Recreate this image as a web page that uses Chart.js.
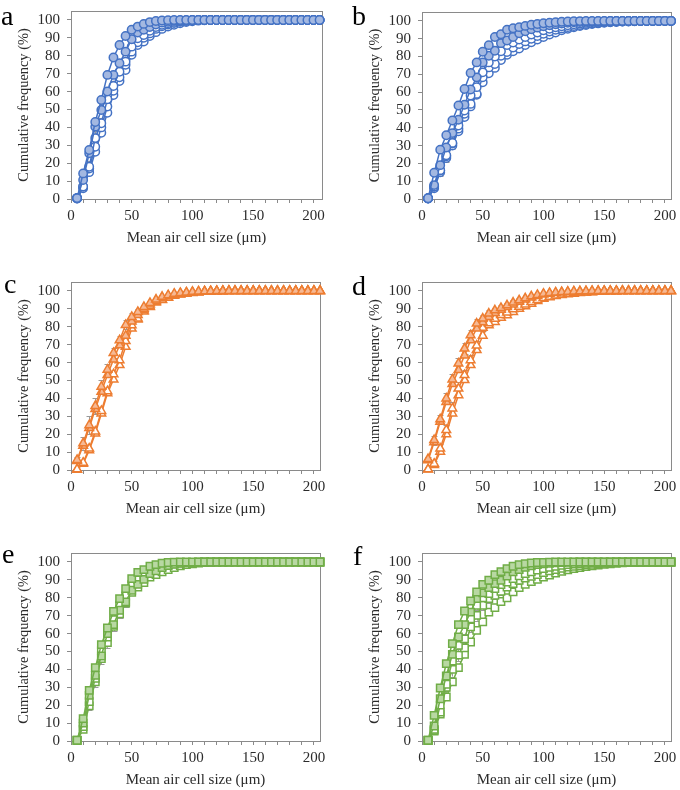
<!DOCTYPE html>
<html>
<head>
<meta charset="utf-8">
<script src="https://cdn.jsdelivr.net/npm/chart.js@4"></script>
<style>
  body { margin: 0; background: #fff; width: 680px; height: 790px; position: relative; overflow: hidden; }
  canvas { position: absolute; }
  .lbl { position: absolute; font: 28px/28px "Liberation Serif", serif; color: #000; z-index: 2; }
</style>
</head>
<body>
<script>
// x positions of the size classes (um)
const sizes = [5, 10, 15, 20, 25, 30, 35, 40, 45, 50,
  55, 60, 65, 70, 75, 80, 85, 90, 95, 100,
  105, 110, 115, 120, 125, 130, 135, 140, 145, 150,
  155, 160, 165, 170, 175, 180, 185, 190, 195, 200, 205];

const xTickLabels = [0, 50, 100, 150, 200];
const yTickLabels = [0, 10, 20, 30, 40, 50, 60, 70, 80, 90, 100];

// panel a (circles)
const aFilled1 = [0.5, 14.3, 27.4, 43, 55.3, 69.3, 79, 86, 91, 94.5,
  96.3, 97.8, 98.8, 99.4, 99.7, 99.9, 100, 100, 100, 100,
  100, 100, 100, 100, 100, 100, 100, 100, 100, 100,
  100, 100, 100, 100, 100, 100, 100, 100, 100, 100, 100];
const aFilled2 = [0.5, 10.6, 25.5, 40.4, 49.7, 60, 69.3, 75.8, 82.3, 89.2,
  93, 94.5, 96, 97.5, 98.5, 99, 99.5, 99.7, 99.9, 100,
  100, 100, 100, 100, 100, 100, 100, 100, 100, 100,
  100, 100, 100, 100, 100, 100, 100, 100, 100, 100, 100];
const aOpen1 = [0.5, 7, 18, 34, 42.3, 55.7, 63.1, 71.1, 76.7, 85.1,
  89.8, 91.6, 94, 96, 97.3, 98.2, 98.9, 99.3, 99.6, 99.8,
  100, 100, 100, 100, 100, 100, 100, 100, 100, 100,
  100, 100, 100, 100, 100, 100, 100, 100, 100, 100, 100];
const aOpen2 = [0.3, 6.9, 17, 29.2, 40, 51.6, 60.5, 68, 75, 82.3,
  87.5, 90, 92.5, 95, 96.5, 97.5, 98.3, 99, 99.4, 99.7,
  99.9, 100, 100, 100, 100, 100, 100, 100, 100, 100,
  100, 100, 100, 100, 100, 100, 100, 100, 100, 100, 100];
const aOpen3 = [0.3, 6, 15, 26.4, 37, 48.2, 58.1, 65.9, 72, 80.5,
  86, 88, 91, 93.2, 95, 96.3, 97.3, 98.2, 98.8, 99.3,
  99.6, 99.8, 100, 100, 100, 100, 100, 100, 100, 100,
  100, 100, 100, 100, 100, 100, 100, 100, 100, 100, 100];
const aOpen1Err = [0, 1.5, 3, 4, 3, 3, 3, 2.5, 2, 1.5,
  1.5, 1, 1, 0.8, 0.6, 0.5, 0.4, 0.3, 0, 0,
  0, 0, 0, 0, 0, 0, 0, 0, 0, 0,
  0, 0, 0, 0, 0, 0, 0, 0, 0, 0, 0];

// panel b (circles)
const bFilled1 = [0.4, 14.7, 27.7, 35.8, 44.1, 52.5, 61.8, 70.8, 76.7, 82.7,
  86.4, 91, 92.5, 95, 95.9, 96.5, 97.2, 97.8, 98.3, 98.7,
  99, 99.3, 99.5, 99.7, 99.8, 99.9, 100, 100, 100, 100,
  100, 100, 100, 100, 100, 100, 100, 100, 100, 100, 100];
const bFilled2 = [0.4, 7.8, 19, 28.9, 37, 44.5, 52.9, 61.5, 68.3, 76.7,
  80.4, 83.2, 87.5, 89, 91, 93, 94.2, 95.3, 96.2, 97,
  97.6, 98.1, 98.5, 98.9, 99.2, 99.4, 99.6, 99.7, 99.8, 99.9,
  100, 100, 100, 100, 100, 100, 100, 100, 100, 100, 100];
const bOpen1 = [0.4, 7, 16.2, 24.6, 31.5, 41.3, 49.7, 58.1, 62.8, 71.1,
  76.7, 80, 83, 86.5, 87.9, 89.5, 91, 92.3, 93.5, 94.7,
  95.6, 96.4, 97, 97.6, 98.1, 98.5, 98.9, 99.2, 99.4, 99.6,
  99.7, 99.8, 99.9, 100, 100, 100, 100, 100, 100, 100, 100];
const bOpen2 = [0.3, 6.9, 16, 24, 31.1, 39.5, 47.9, 53.4, 59, 68.3,
  73.9, 75.8, 80.4, 82.5, 85, 87, 88.5, 90, 91.5, 92.8,
  94, 95, 95.8, 96.5, 97.1, 97.7, 98.2, 98.6, 98.9, 99.2,
  99.4, 99.6, 99.7, 99.8, 99.9, 100, 100, 100, 100, 100, 100];
const bOpen3 = [0.3, 6, 15, 23, 30, 38, 46, 52, 58.5, 65.5,
  70.6, 73.6, 78, 81, 82.9, 84.5, 86.5, 88, 89.5, 91,
  92.3, 93.5, 94.7, 95.6, 96.4, 97.1, 97.7, 98.2, 98.6, 98.9,
  99.2, 99.4, 99.6, 99.7, 99.8, 99.9, 100, 100, 100, 100, 100];
const bOpen2Err = [0, 2, 3, 3, 3, 2.5, 2.5, 2.5, 2, 2,
  1.5, 1.5, 1.2, 1, 1, 0.8, 0.7, 0.6, 0.5, 0.4,
  0.3, 0, 0, 0, 0, 0, 0, 0, 0, 0,
  0, 0, 0, 0, 0, 0, 0, 0, 0, 0, 0];

// panel c (triangles)
const cFilled1 = [5.6, 14.9, 25, 35.7, 46.5, 56, 65.4, 72.5, 81, 85.5,
  88.3, 91.1, 93.3, 95.2, 96.7, 97.6, 98.5, 98.9, 99.2, 99.5,
  99.7, 99.8, 99.9, 100, 100, 100, 100, 100, 100, 100,
  100, 100, 100, 100, 100, 100, 100, 100, 100, 100, 100];
const cFilled2 = [5, 13.5, 23.5, 34, 43.7, 53, 61.7, 69.7, 75, 83,
  86.5, 90, 92.5, 94.5, 96.2, 97.2, 98, 98.6, 99, 99.3,
  99.5, 99.7, 99.8, 99.9, 100, 100, 100, 100, 100, 100,
  100, 100, 100, 100, 100, 100, 100, 100, 100, 100, 100];
const cOpen1 = [0.4, 4.1, 12, 21.5, 33, 44, 53.5, 61.3, 72, 80.9,
  84.6, 89.2, 91.4, 93.9, 95.2, 96.3, 97.6, 98.1, 98.6, 99,
  99.3, 99.5, 99.7, 99.8, 99.9, 100, 100, 100, 100, 100,
  100, 100, 100, 100, 100, 100, 100, 100, 100, 100, 100];
const cOpen2 = [0.2, 3.5, 11, 20.4, 31.6, 42.8, 50.6, 58.6, 68.8, 79,
  84, 88.5, 91, 93.5, 95, 96.2, 97.3, 98, 98.5, 98.9,
  99.2, 99.5, 99.7, 99.8, 99.9, 100, 100, 100, 100, 100,
  100, 100, 100, 100, 100, 100, 100, 100, 100, 100, 100];
const cFilled1Err = [1.5, 3.5, 5, 4.5, 3.5, 3, 3, 2.5, 2.5, 2,
  1.5, 1.2, 1, 1, 0.8, 0.6, 0.5, 0.4, 0.3, 0,
  0, 0, 0, 0, 0, 0, 0, 0, 0, 0,
  0, 0, 0, 0, 0, 0, 0, 0, 0, 0, 0];

// panel d (triangles)
const dFilled1 = [6.1, 16.7, 28.3, 40, 50.6, 59.5, 67.8, 75.3, 81.8, 84.6,
  87.4, 89.2, 90.5, 92, 93.5, 94.8, 95.9, 97, 97.8, 98.5,
  98.9, 99.2, 99.4, 99.6, 99.7, 99.8, 99.9, 100, 100, 100,
  100, 100, 100, 100, 100, 100, 100, 100, 100, 100, 100];
const dFilled2 = [5.5, 15.5, 27, 38, 48, 55.8, 64, 72.5, 79, 82.5,
  85.5, 87.7, 89.5, 91, 92.5, 94, 95.2, 96.3, 97.2, 98,
  98.5, 98.9, 99.2, 99.4, 99.6, 99.7, 99.8, 99.9, 100, 100,
  100, 100, 100, 100, 100, 100, 100, 100, 100, 100, 100];
const dOpen1 = [0.4, 3.5, 12, 22.3, 34.4, 45.5, 53, 61.3, 69.5, 79.4,
  82, 84.5, 86.5, 88, 89.8, 91.2, 92.5, 93.8, 95, 96,
  96.8, 97.5, 98, 98.4, 98.7, 99, 99.2, 99.4, 99.6, 99.7,
  99.8, 99.9, 100, 100, 100, 100, 100, 100, 100, 100, 100];
const dOpen2 = [0.3, 2.8, 10.2, 20, 31.6, 41.8, 50.2, 58.6, 67, 75,
  80.9, 82.7, 85.1, 86.4, 88.3, 90.1, 91.4, 92.9, 94.4, 95.7,
  96.5, 97.2, 97.7, 98.1, 98.5, 98.8, 99.1, 99.3, 99.5, 99.7,
  99.8, 99.9, 100, 100, 100, 100, 100, 100, 100, 100, 100];
const dFilled1Err = [1, 2.5, 2.5, 3, 3, 3, 3, 3, 2.5, 2,
  1.8, 1.5, 1.5, 1.3, 1.2, 1, 0.8, 0.6, 0.5, 0.4,
  0.3, 0, 0, 0, 0, 0, 0, 0, 0, 0,
  0, 0, 0, 0, 0, 0, 0, 0, 0, 0, 0];
const dOpen1Err = [0, 1.5, 2.5, 3, 3.5, 3.5, 3, 3, 2.5, 2,
  2, 1.8, 1.5, 1.3, 1.2, 1, 0.8, 0.7, 0.6, 0.5,
  0.4, 0.3, 0, 0, 0, 0, 0, 0, 0, 0,
  0, 0, 0, 0, 0, 0, 0, 0, 0, 0, 0];

// panel e (squares)
const eFilled1 = [0.4, 12.5, 28.3, 41, 53.8, 63.1, 72.4, 79.5, 85.1, 90.7,
  94.2, 95.7, 97.6, 98.5, 99.3, 99.7, 99.9, 100, 100, 100,
  100, 100, 100, 100, 100, 100, 100, 100, 100, 100,
  100, 100, 100, 100, 100, 100, 100, 100, 100, 100, 100];
const eFilled2 = [0.4, 10, 25.5, 36.7, 47.5, 60, 65, 73, 77.7, 84.2,
  87.5, 90.3, 93.5, 95, 96.8, 98, 98.7, 99.2, 99.5, 99.7,
  99.9, 100, 100, 100, 100, 100, 100, 100, 100, 100,
  100, 100, 100, 100, 100, 100, 100, 100, 100, 100, 100];
const eOpen1 = [0.3, 8, 22, 35, 50.5, 58, 67.8, 75.8, 81, 87.3,
  90, 92.5, 95, 96.5, 97.6, 98.4, 99, 99.4, 99.6, 99.8,
  99.9, 100, 100, 100, 100, 100, 100, 100, 100, 100,
  100, 100, 100, 100, 100, 100, 100, 100, 100, 100, 100];
const eOpen2 = [0.3, 6.5, 19.6, 33, 46, 55, 64, 71, 77, 83,
  86, 88.5, 91.5, 93, 94.5, 95.8, 96.9, 97.8, 98.5, 99,
  99.4, 99.7, 99.8, 99.9, 100, 100, 100, 100, 100, 100,
  100, 100, 100, 100, 100, 100, 100, 100, 100, 100, 100];
const eOpen2Err = [0, 1.5, 2.5, 3, 3, 3, 2.5, 2.5, 2, 1.5,
  1.5, 1.2, 1, 0.8, 0.6, 0.5, 0.4, 0.3, 0, 0,
  0, 0, 0, 0, 0, 0, 0, 0, 0, 0,
  0, 0, 0, 0, 0, 0, 0, 0, 0, 0, 0];

// panel f (squares)
const fFilled1 = [0.4, 14.3, 29.6, 43.2, 54.4, 65, 72.6, 78.2, 83.2, 87.5,
  89.8, 92.9, 94.6, 96.3, 97.6, 98.5, 99, 99.4, 99.7, 99.8,
  99.9, 100, 100, 100, 100, 100, 100, 100, 100, 100,
  100, 100, 100, 100, 100, 100, 100, 100, 100, 100, 100];
const fFilled2 = [0.4, 8.4, 23.6, 36.3, 48.4, 58.1, 65, 72, 79.5, 82.7,
  85.7, 87.9, 89.8, 92.1, 94.5, 95.7, 97, 97.8, 98.5, 99,
  99.3, 99.5, 99.7, 99.8, 99.9, 100, 100, 100, 100, 100,
  100, 100, 100, 100, 100, 100, 100, 100, 100, 100, 100];
const fOpen1 = [0.3, 6.5, 20, 31.7, 44.7, 53.4, 57, 68.3, 75.8, 79.9,
  82.3, 85.1, 87.3, 88.8, 90.7, 92.2, 93.5, 94.5, 95.5, 96.3,
  97, 97.6, 98.1, 98.5, 98.8, 99.1, 99.3, 99.5, 99.7, 99.8,
  99.9, 100, 100, 100, 100, 100, 100, 100, 100, 100, 100];
const fOpen2 = [0.3, 6, 16.2, 30, 40, 48, 52, 63.7, 70.2, 75.8,
  79.5, 81.4, 83.6, 86, 87.9, 89.8, 91, 92, 93, 94,
  95, 95.8, 96.5, 97.1, 97.6, 98, 98.4, 98.7, 99, 99.3,
  99.5, 99.7, 99.8, 99.9, 100, 100, 100, 100, 100, 100, 100];
const fOpen3 = [0.2, 5.5, 15, 24.6, 33, 41, 48.4, 55.3, 61.8, 66.5,
  72, 74.5, 77.9, 80, 83.3, 85.7, 87.5, 89, 90.3, 91.5,
  92.7, 93.8, 94.8, 95.6, 96.3, 96.9, 97.4, 97.9, 98.3, 98.7,
  99, 99.3, 99.5, 99.7, 99.8, 99.9, 100, 100, 100, 100, 100];
const fOpen1Err = [0, 2, 3.5, 3.5, 3.5, 3, 3, 3, 2.5, 2.5,
  2, 2, 1.8, 1.6, 1.5, 1.3, 1.2, 1, 0.9, 0.8,
  0.7, 0.5, 0.4, 0.3, 0, 0, 0, 0, 0, 0,
  0, 0, 0, 0, 0, 0, 0, 0, 0, 0, 0];
const fOpen2Err = [0, 1.5, 3, 4, 4, 3.5, 3, 3, 3, 2.5,
  2.5, 2, 2, 1.8, 1.5, 1.5, 1.3, 1.2, 1, 1,
  0.8, 0.7, 0.6, 0.5, 0.4, 0, 0, 0, 0, 0,
  0, 0, 0, 0, 0, 0, 0, 0, 0, 0, 0];

const blue = { line: '#4472C4', fill: '#A3B8E1' };
const orange = { line: '#ED7D31', fill: '#F6B994' };
const green = { line: '#70AD47', fill: '#B8D8A2' };

Chart.defaults.font.family = '"Liberation Serif", "Times New Roman", serif';
Chart.defaults.font.size = 15;
Chart.defaults.color = '#2b2b2b';

// plot rectangle of each panel in page pixels
const panels = [
  { letter: 'a', at: [1, 1.6], plot: { l: 71, t: 11, r: 322, b: 199 }, xMax: 207, pal: blue, style: 'circle',
    filled: [aFilled1, aFilled2], open: [aOpen1, aOpen2, aOpen3], err: { open0: aOpen1Err } },
  { letter: 'b', at: [352, 1.6], plot: { l: 422, t: 12, r: 671, b: 199 }, xMax: 205, pal: blue, style: 'circle',
    filled: [bFilled1, bFilled2], open: [bOpen1, bOpen2, bOpen3], err: { open1: bOpen2Err } },
  { letter: 'c', at: [4, 269.6], plot: { l: 71, t: 282, r: 320, b: 470 }, xMax: 205, pal: orange, style: 'triangle',
    filled: [cFilled1, cFilled2], open: [cOpen1, cOpen2], err: { filled0: cFilled1Err } },
  { letter: 'd', at: [352, 271.6], plot: { l: 422, t: 282, r: 671, b: 470 }, xMax: 205, pal: orange, style: 'triangle',
    filled: [dFilled1, dFilled2], open: [dOpen1, dOpen2], err: { filled0: dFilled1Err, open0: dOpen1Err } },
  { letter: 'e', at: [2, 539.6], plot: { l: 71, t: 553, r: 320, b: 741 }, xMax: 205, pal: green, style: 'rect',
    filled: [eFilled1, eFilled2], open: [eOpen1, eOpen2], err: { open1: eOpen2Err } },
  { letter: 'f', at: [353, 541.6], plot: { l: 422, t: 553, r: 671, b: 741 }, xMax: 205, pal: green, style: 'rect',
    filled: [fFilled1, fFilled2], open: [fOpen1, fOpen2, fOpen3], err: { open0: fOpen1Err, open1: fOpen2Err } }
];

const markerSize = { circle: 4.2, triangle: 5, rect: 5.2 };

// gray box round the plot area
const frame = {
  id: 'frame',
  beforeDatasetsDraw(chart) {
    const { ctx, chartArea: a } = chart;
    ctx.save();
    ctx.strokeStyle = '#8a8a8a';
    ctx.lineWidth = 1;
    ctx.strokeRect(Math.round(a.left) + 0.5, Math.round(a.top) + 0.5,
      Math.round(a.width), Math.round(a.height));
    ctx.restore();
  }
};

// gray error whiskers, drawn under the markers
const errorBars = {
  id: 'errorBars',
  beforeDatasetsDraw(chart) {
    const { ctx, scales: { x, y } } = chart;
    ctx.save();
    ctx.strokeStyle = '#9a9a9a';
    ctx.lineWidth = 1;
    chart.data.datasets.forEach(ds => {
      if (!ds.errors) return;
      ds.data.forEach((pt, i) => {
        const e = ds.errors[i];
        if (!e) return;
        const px = Math.round(x.getPixelForValue(pt.x)) + 0.5;
        const top = y.getPixelForValue(Math.min(pt.y + e, 100.5));
        const bot = y.getPixelForValue(pt.y - e);
        ctx.beginPath();
        ctx.moveTo(px, bot);
        ctx.lineTo(px, top);
        ctx.moveTo(px - 3, Math.round(top) + 0.5);
        ctx.lineTo(px + 3, Math.round(top) + 0.5);
        ctx.moveTo(px - 3, Math.round(bot) + 0.5);
        ctx.lineTo(px + 3, Math.round(bot) + 0.5);
        ctx.stroke();
      });
    });
    ctx.restore();
  }
};

function series(values, pal, style, filled, errors) {
  return {
    data: sizes.map((x, i) => ({ x, y: values[i] })),
    errors,
    borderColor: pal.line,
    backgroundColor: filled ? pal.fill : '#fff',
    pointBackgroundColor: filled ? pal.fill : '#fff',
    pointBorderColor: pal.line,
    pointStyle: style,
    pointRadius: markerSize[style],
    pointBorderWidth: 1.5,
    borderWidth: 1.5,
    tension: 0,
    clip: false
  };
}

function drawPanel(p) {
  const { l, t, r, b } = p.plot;
  const canvas = document.createElement('canvas');
  const w = r - l + 79, h = b - t + 58;
  canvas.width = w;
  canvas.height = h;
  canvas.style.left = (l - 71) + 'px';
  canvas.style.top = (t - 8) + 'px';
  canvas.style.width = w + 'px';
  canvas.style.height = h + 'px';
  document.body.appendChild(canvas);

  const label = document.createElement('div');
  label.className = 'lbl';
  label.textContent = p.letter;
  label.style.left = p.at[0] + 'px';
  label.style.top = p.at[1] + 'px';
  document.body.appendChild(label);

  const datasets = [
    ...p.filled.map((v, i) => series(v, p.pal, p.style, true, p.err['filled' + i])),
    ...p.open.map((v, i) => series(v, p.pal, p.style, false, p.err['open' + i]))
  ];

  new Chart(canvas, {
    type: 'line',
    data: { datasets },
    plugins: [frame, errorBars],
    options: {
      responsive: false,
      animation: false,
      devicePixelRatio: 1,
      layout: { padding: { left: 10, top: 8, right: 8, bottom: 2 } },
      plugins: { legend: { display: false }, tooltip: { enabled: false } },
      scales: {
        x: {
          type: 'linear',
          min: 0,
          max: p.xMax,
          border: { display: false },
          grid: { drawOnChartArea: false, drawTicks: true, tickLength: 4, color: '#8a8a8a' },
          ticks: {
            stepSize: 10, includeBounds: false, autoSkip: false, maxRotation: 0, padding: 4,
            callback: v => xTickLabels.includes(v) ? v : ''
          },
          title: { display: true, text: 'Mean air cell size (μm)', padding: { top: 0, bottom: 0 } },
          afterFit: s => { s.height = 48; s.paddingLeft = 0; s.paddingRight = 0; }
        },
        y: {
          min: 0,
          max: 105,
          border: { display: false },
          grid: { drawOnChartArea: false, drawTicks: true, tickLength: 4, color: '#8a8a8a' },
          ticks: {
            stepSize: 10, includeBounds: false, autoSkip: false, padding: 7,
            callback: v => yTickLabels.includes(v) ? v : ''
          },
          title: { display: true, text: 'Cumulative frequency (%)', font: { size: 14.4 }, padding: { top: 6, bottom: 0 } },
          afterFit: s => { s.width = 61; s.paddingTop = 0; s.paddingBottom = 0; }
        }
      }
    }
  });
}

document.addEventListener('DOMContentLoaded', () => {
  panels.forEach(drawPanel);
});
</script>
</body>
</html>
